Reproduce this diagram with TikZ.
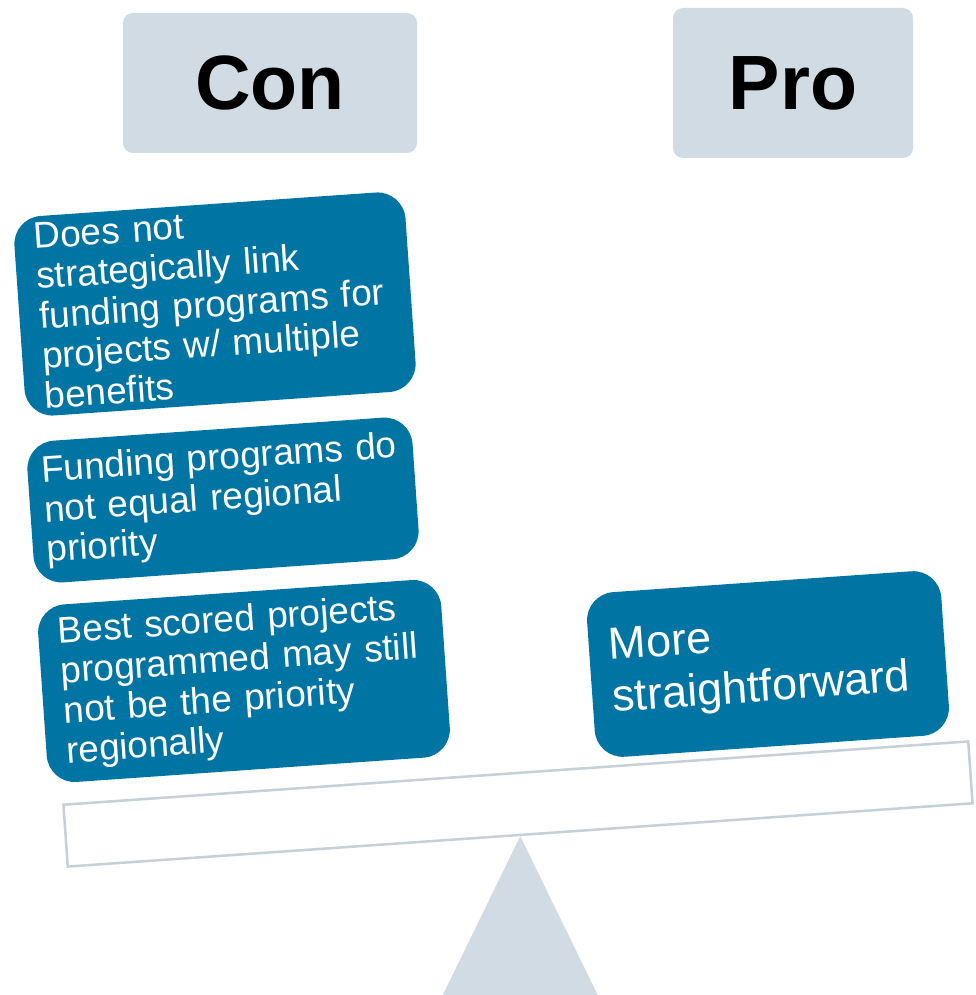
\documentclass[tikz,border=0pt]{standalone}
\usepackage{fontspec}
\setmainfont{Liberation Sans}
\usetikzlibrary{shapes}
\definecolor{argColor}{RGB}{0,116,162}
\definecolor{headColor}{RGB}{208,219,227}
\colorlet{drawColor}{headColor!95!black}
\tikzstyle{head}=[rectangle, rounded corners=10pt, align=center, fill=headColor,
font=\fontsize{77}{80}\selectfont\bfseries]
\tikzstyle{argument}=[rectangle, rounded corners=28pt, align=left, rotate=4,
fill=argColor, text=white, inner xsep=20pt, inner ysep=0pt,
font=\fontsize{37}{40}\selectfont]
\tikzstyle{plank}=[rectangle, rotate=4, draw=drawColor, line width=2.5pt,
fill=white, minimum width=907pt, minimum height=62pt]
\tikzstyle{fulcrum}=[fill=headColor]

\begin{document}
\begin{tikzpicture}[x=1pt, y=-1pt]
    \useasboundingbox (0,0) rectangle (975,995);
    \node (con) [head, minimum width=294pt, minimum height=140pt] at (270,83) {Con};
    \node (pro) [head, minimum width=240pt, minimum height=150pt] at (793,83) {Pro};
    \node (conLink) [argument, text width=352pt, minimum height=200pt] at (215,304)
      {Does not\\strategically link\\funding programs for\\projects w/ multiple\\benefits};
    \node (conPriority) [argument, text width=358pt, inner xsep=14pt,
      minimum height=142pt] at (223,500)
      {Funding programs do\\not equal regional\\priority};
    \node (conScored) [argument, text width=364pt, minimum height=178pt] at (244,681)
      {Best scored projects\\programmed may still\\not be the priority\\regionally};
    \node (proSimple) [argument, text width=315pt, minimum height=165pt,
      font=\fontsize{45}{52}\selectfont] at (768,664) {More\\straightforward};
    \node (beam) [plank] at (518,804) {};
    \fill[fulcrum] (beam.south) -- ++(78,160) -- ++(-156,0) -- cycle;
  \end{tikzpicture}
\end{document}
